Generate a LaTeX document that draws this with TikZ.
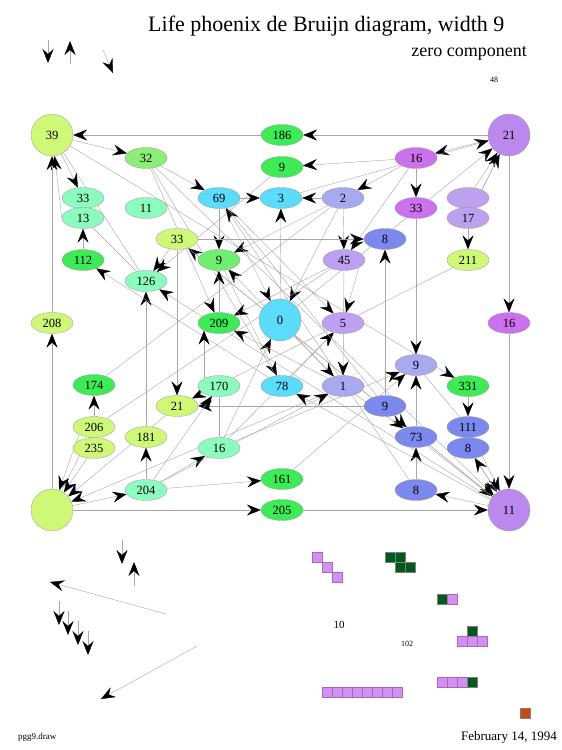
\documentclass[tikz,border=0pt]{standalone}
\usepackage{fontspec}
\setmainfont{Liberation Serif}
\usetikzlibrary{shapes.geometric,arrows.meta,backgrounds}
\definecolor{yg}{HTML}{D0F878}
\definecolor{gr}{HTML}{3CEB55}
\definecolor{lg}{HTML}{70EE70}
\definecolor{pg}{HTML}{8CEE78}
\definecolor{mt}{HTML}{8CFCBE}
\definecolor{cy}{HTML}{5ADCFA}
\definecolor{pw}{HTML}{A8AAF0}
\definecolor{bl}{HTML}{7B88EE}
\definecolor{lp}{HTML}{BEA0F0}
\definecolor{vi}{HTML}{CC70EE}
\definecolor{pu}{HTML}{BB88EE}
\definecolor{pk}{HTML}{D090F4}
\definecolor{dg}{HTML}{005A1E}
\definecolor{og}{HTML}{C84A10}

\tikzset{
  nd/.style={ellipse, draw=gray!80, line width=0.3pt, minimum width=42pt,
    minimum height=21pt, inner sep=0pt, font=\fontsize{12.5}{12.5}\selectfont},
  bg/.style={circle, draw=gray!80, line width=0.3pt, minimum size=42pt,
    inner sep=0pt, font=\fontsize{12.5}{12.5}\selectfont},
  ed/.style={draw=gray!70, line width=0.4pt,
    -{Stealth[black,length=14pt,width=11pt,inset=5pt]}},
  pl/.style={draw=gray!70, line width=0.4pt},
  cell/.style={line width=0.4pt}
}

\begin{document}
\begin{tikzpicture}[x=1pt,y=-1pt]
\useasboundingbox (0,0) rectangle (562,750);

% titles
\node[anchor=base west, inner sep=0pt, font=\fontsize{22}{22}\selectfont] (title) at (148,31) {Life phoenix de Bruijn diagram, width 9};
\node[anchor=base east, inner sep=0pt, font=\fontsize{18}{18}\selectfont] (sub) at (527,56) {zero component};
\node[font=\fontsize{8}{8}\selectfont] (cnt) at (494,80) {48};

% nodes, top rows
\node[bg, fill=yg] (n39) at (52,135) {39};
\node[nd, fill=gr] (n186) at (282,135) {186};
\node[bg, fill=pu] (n21a) at (509,135) {21};
\node[nd, fill=pg] (n32) at (146,158) {32};
\node[nd, fill=gr] (n9a) at (282,167) {9};
\node[nd, fill=vi] (n16a) at (416,158) {16};
\node[nd, fill=mt] (n33a) at (83,198) {33};
\node[nd, fill=cy] (n69) at (219,198) {69};
\node[nd, fill=cy] (n3) at (281,198) {3};
\node[nd, fill=pw] (n2) at (343,198) {2};
\node[nd, fill=vi] (n33b) at (416,208) {33};
\node[nd, fill=lp] (nU) at (468,198) {};
\node[nd, fill=lp] (n17) at (468,218) {17};
\node[nd, fill=mt] (n13) at (83,218) {13};
\node[nd, fill=mt] (n11) at (146,208) {11};
\node[nd, fill=yg] (n33c) at (177,239) {33};
\node[nd, fill=bl] (n8a) at (385,239) {8};
\node[nd, fill=gr] (n112) at (83,260) {112};
\node[nd, fill=lg] (n9b) at (219,260) {9};
\node[nd, fill=lp] (n45) at (344,260) {45};
\node[nd, fill=yg] (n211) at (468,260) {211};
\node[nd, fill=mt] (n126) at (146,281) {126};

% middle rows
\node[nd, fill=yg] (n208) at (52,323) {208};
\node[nd, fill=gr] (n209) at (219,323) {209};
\node[bg, fill=cy] (n0) at (280,320) {0};
\node[nd, fill=lp] (n5) at (343,323) {5};
\node[nd, fill=vi] (n16b) at (509,323) {16};
\node[nd, fill=pw] (n9c) at (416,365) {9};
\node[nd, fill=gr] (n174) at (94,385) {174};
\node[nd, fill=mt] (n170) at (219,386) {170};
\node[nd, fill=cy] (n78) at (282,386) {78};
\node[nd, fill=pw] (n1) at (343,386) {1};
\node[nd, fill=gr] (n331) at (468,386) {331};
\node[nd, fill=yg] (n21b) at (177,406) {21};
\node[nd, fill=bl] (n9d) at (385,406) {9};
\node[nd, fill=bl] (n111) at (468,427) {111};
\node[nd, fill=yg] (n206) at (94,427) {206};
\node[nd, fill=yg] (n181) at (146,437) {181};
\node[nd, fill=bl] (n73) at (416,437) {73};
\node[nd, fill=bl] (n8b) at (468,448) {8};
\node[nd, fill=yg] (n235) at (94,448) {235};
\node[nd, fill=mt] (n16c) at (219,448) {16};

% bottom rows
\node[nd, fill=gr] (n161) at (282,479) {161};
\node[nd, fill=mt] (n204) at (146,490) {204};
\node[nd, fill=bl] (n8c) at (416,490) {8};
\node[bg, fill=yg] (nB) at (52,510) {};
\node[nd, fill=gr] (n205) at (282,510) {205};
\node[bg, fill=pu] (n11) at (509,510) {11};

% connections
\begin{pgfonlayer}{background}
\draw[ed] (n21a) -- (n186);
\draw[ed] (n186) -- (n39);
\draw[ed] (n39) -- (n32);
\draw[ed] (n39) -- (n33a);
\draw[ed] (n13.west) -- (n39);
\draw[ed] (n208) -- (n39);
\draw[ed] (nB) -- (n208);
\draw[ed] (n32) -- (n11);
\draw[ed] (n32) -- (n69);
\draw[ed] (n32) -- (n209);
\draw[ed] (n11) -- (n126);
\draw[ed] (n11) -- (n33c);
\draw[ed] (n33c) -- (n11);
\draw[ed] (n33c) -- (n126);
\draw[ed] (n9a) -- (n126);
\draw[ed] (n181) -- (n126);
\draw[ed] (n112) -- (n13);
\draw[ed] (n78) -- (n112);
\draw[ed] (n69) -- (n3);
\draw[ed] (n2) -- (n3);
\draw[ed] (n69) -- (n9b);
\draw[ed] (n2) -- (n9b);
\draw[ed] (n209) -- (n9b);
\draw[ed] (n1) -- (n9b);
\draw[ed] (n16a) -- (n9a);
\draw[ed] (n21a) -- (n16a);
\draw[ed] (n16a) -- (n2);
\draw[ed] (n16a) -- (n33b);
\draw[ed] (n16a) -- (n45);
\draw[ed] (n33b) -- (n9c);
\draw[ed] (n21a) -- (n17);
\draw[ed] (n17) -- (n211);
\draw[ed] (n211) -- (n21b);
\draw[ed] (n21a) -- (n16b);
\draw[ed] (n16b) -- (n11);
\draw[ed] (n33c) -- (n21b);
\draw[ed] (n9d) -- (n21b);
\draw[ed] (n204) -- (n181);
\draw[ed] (nB) -- (n205);
\draw[ed] (n205) -- (n11);
\draw[ed] (n204) -- (n161);
\draw[ed] (n204) -- (n16c);
\draw[ed] (nB) -- (n204);
\draw[ed] (n204) -- (n170);
\draw[ed] (n170.north west) -- (n209.south west);
\draw[ed] (n206) -- (n174);
\draw[ed] (nB) -- (n206);
\draw[ed] (n206.south west) -- (nB);
\draw[ed] (n235) -- (nB);
\draw[ed] (n21b) -- (nB);
\draw[ed] (n1) -- (nB);
\draw[ed] (n16c) -- (n0);
\draw[ed] (n16c) -- (n5);
\draw[ed] (n69) -- (n0);
\draw[ed] (n2) -- (n0);
\draw[ed] (n0) -- (n3);
\draw[ed] (n45.south east) -- (n5);
\draw[ed] (n45) -- (n1);
\draw[ed] (n2) -- (n45);
\draw[ed] (n33c) -- (n8a);
\draw[ed] (n69) -- (n5);
\draw[ed] (n0) -- (n1);
\draw[ed] (n78) -- (n5);
\draw[ed] (n204) -- (n1);
\draw[ed] (n16c) -- (n9c);
\draw[ed] (n161) -- (n9c);
\draw[ed] (n73) -- (n9c);
\draw[ed] (n8c) -- (n73);
\draw[ed] (n9d) -- (n73);
\draw[ed] (n1) -- (n73);
\draw[ed] (n9d) -- (n8a);
\draw[ed] (n111) -- (n11);
\draw[ed] (n8b) -- (n11);
\draw[ed] (n11) -- (n8b);
\draw[ed] (n39) -- (n331);
\draw[ed] (n331) -- (n111);
\draw[ed] (n11) -- (n8c);
\draw[ed] (n11) -- (n78);
\draw[ed] (n8c) -- (n69);
\draw[ed] (n9b) -- (n78);
\draw[ed] (n1) -- (n209);
\draw[ed] (n45) -- (n209);
\draw[ed] (nU) -- (n21a);
\draw[ed] (n17) -- (n21a);
\draw[ed] (n0) -- (n21a);
\draw[ed] (n3) -- (n21a);
\draw[pl] (n39) -- (n126);
\draw[pl] (n13) -- (n126);
\draw[pl] (n9c) -- (n111);
\draw[pl] (n73) -- (n11);
\draw[pl] (n174) -- (n2);
\draw[pl] (n206) -- (n45);
\draw[pl] (n16c) -- (n170);
\draw[pl] (n69) -- (n9d);
\draw[pl] (n32) -- (n78);
\end{pgfonlayer}

% stray arrows, top left
\coordinate (ta1) at (48,40);  \coordinate (tb1) at (48,63);
\coordinate (ta2) at (70,64);  \coordinate (tb2) at (70,41);
\coordinate (ta3) at (103,50); \coordinate (tb3) at (113,73);
\draw[ed] (ta1) -- (tb1);
\draw[ed] (ta2) -- (tb2);
\draw[ed] (ta3) -- (tb3);

% stray arrows, bottom left
\coordinate (ba1) at (122,540); \coordinate (bb1) at (122,564);
\coordinate (ba2) at (134,586); \coordinate (bb2) at (134,562);
\coordinate (ba3) at (166,614); \coordinate (bb3) at (50,582);
\coordinate (ba4) at (59,601);  \coordinate (bb4) at (59,625);
\coordinate (ba5) at (68,611);  \coordinate (bb5) at (68,635);
\coordinate (ba6) at (78,621);  \coordinate (bb6) at (78,645);
\coordinate (ba7) at (88,631);  \coordinate (bb7) at (88,655);
\coordinate (ba8) at (197,646); \coordinate (bb8) at (101,699);
\draw[ed] (ba1) -- (bb1);
\draw[ed] (ba2) -- (bb2);
\draw[ed] (ba3) -- (bb3);
\draw[ed] (ba4) -- (bb4);
\draw[ed] (ba5) -- (bb5);
\draw[ed] (ba6) -- (bb6);
\draw[ed] (ba7) -- (bb7);
\draw[ed] (ba8) -- (bb8);

% patterns
\draw[cell, fill=pk, draw=violet!60] (312,552) rectangle +(10,10);
\draw[cell, fill=pk, draw=violet!60] (322,562) rectangle +(10,10);
\draw[cell, fill=pk, draw=violet!60] (332,572) rectangle +(10,10);
\draw[cell, fill=dg, draw=gray] (385,552) rectangle +(10,10);
\draw[cell, fill=dg, draw=gray] (395,552) rectangle +(10,10);
\draw[cell, fill=dg, draw=gray] (395,562) rectangle +(10,10);
\draw[cell, fill=dg, draw=gray] (405,562) rectangle +(10,10);
\draw[cell, fill=dg, draw=gray] (437,594) rectangle +(10,10);
\draw[cell, fill=pk, draw=violet!60] (447,594) rectangle +(10,10);
\draw[cell, fill=dg, draw=gray] (467,626) rectangle +(10,10);
\draw[cell, fill=pk, draw=violet!60] (457,636) rectangle +(10,10);
\draw[cell, fill=pk, draw=violet!60] (467,636) rectangle +(10,10);
\draw[cell, fill=pk, draw=violet!60] (477,636) rectangle +(10,10);
\draw[cell, fill=pk, draw=violet!60] (437,677) rectangle +(10,10);
\draw[cell, fill=pk, draw=violet!60] (447,677) rectangle +(10,10);
\draw[cell, fill=pk, draw=violet!60] (457,677) rectangle +(10,10);
\draw[cell, fill=dg, draw=gray] (467,677) rectangle +(10,10);
\draw[cell, fill=pk, draw=violet!60] (322,687) rectangle +(10,10);
\draw[cell, fill=pk, draw=violet!60] (332,687) rectangle +(10,10);
\draw[cell, fill=pk, draw=violet!60] (342,687) rectangle +(10,10);
\draw[cell, fill=pk, draw=violet!60] (352,687) rectangle +(10,10);
\draw[cell, fill=pk, draw=violet!60] (362,687) rectangle +(10,10);
\draw[cell, fill=pk, draw=violet!60] (372,687) rectangle +(10,10);
\draw[cell, fill=pk, draw=violet!60] (382,687) rectangle +(10,10);
\draw[cell, fill=pk, draw=violet!60] (392,687) rectangle +(10,10);
\draw[cell, fill=og, draw=gray] (520,708) rectangle +(10,10);

% footer
\node[font=\fontsize{11}{11}\selectfont] (ten) at (339,625) {10};
\node[font=\fontsize{8}{8}\selectfont] (oto) at (407,644) {102};
\node[anchor=base west, inner sep=0pt, font=\fontsize{9}{9}\selectfont] (fname) at (18,739) {pgg9.draw};
\node[anchor=base east, inner sep=0pt, font=\fontsize{13}{13}\selectfont] (date) at (557,740) {February 14, 1994};
\end{tikzpicture}
\end{document}
